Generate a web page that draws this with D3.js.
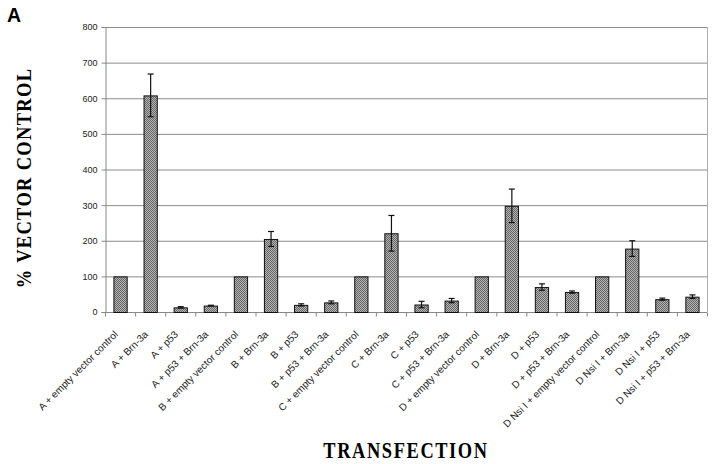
<!DOCTYPE html>
<html><head><meta charset="utf-8">
<script src="https://cdn.jsdelivr.net/npm/d3@7"></script>
<style>body{margin:0;background:#fff}svg{display:block}</style>
</head><body>
<script>
const categories = ["A + empty vector control","A + Brn-3a","A + p53","A + p53 + Brn-3a",
"B + empty vector control","B + Brn-3a","B + p53","B + p53 + Brn-3a",
"C + empty vector control","C + Brn-3a","C + p53","C + p53 + Brn-3a",
"D + empty vector control","D + Brn-3a","D + p53","D + p53 + Brn-3a",
"D Nsi I + empty vector control","D Nsi I + Brn-3a","D Nsi I + p53","D Nsi I + p53 + Brn-3a"];
const values = [100,608,13,18, 100,205,20,27, 100,221,21,32, 100,298,70,56, 100,178,36,43];
const errors = [0,60,2,1, 0,21,3,4, 0,50,9,6, 0,47,9,3, 0,22,3,5];
const yTicks = [0,100,200,300,400,500,600,700,800];

const W=715,H=464;
const m={l:105,r:8,t:27,b:152};
const svg=d3.select("body").append("svg").attr("width",W).attr("height",H);
const defs=svg.append("defs");
const pat=defs.append("pattern").attr("id","hatch").attr("patternUnits","userSpaceOnUse").attr("width",2).attr("height",2);
pat.append("rect").attr("width",2).attr("height",2).attr("fill","#b4b4b4");
pat.append("rect").attr("width",1).attr("height",1).attr("fill","#666");
pat.append("rect").attr("x",1).attr("y",1).attr("width",1).attr("height",1).attr("fill","#666");

const x=d3.scaleBand().domain(categories).range([m.l,W-m.r]).paddingInner(0.56).paddingOuter(0.28);
const y=d3.scaleLinear().domain([0,800]).range([H-m.b,m.t]);

// gridlines
svg.append("g").selectAll("line").data(yTicks.filter(d=>d>0)).join("line")
 .attr("x1",m.l).attr("x2",W-m.r).attr("y1",d=>y(d)+0.5).attr("y2",d=>y(d)+0.5)
 .attr("stroke","#8c8c8c").attr("stroke-width",1);
// right border
svg.append("line").attr("x1",W-m.r+0.5).attr("x2",W-m.r+0.5).attr("y1",y(800)).attr("y2",y(0)).attr("stroke","#b0b0b0");

// y axis
const ya=svg.append("g").attr("transform",`translate(${m.l+0.5},0)`)
 .call(d3.axisLeft(y).tickValues(yTicks).tickSize(4).tickPadding(4));
ya.select(".domain").attr("stroke","#888");
ya.selectAll(".tick line").attr("stroke","#888");
ya.selectAll("text").attr("font-family","Arial, 'Liberation Sans', sans-serif").attr("font-size",9).attr("fill","#222");

// x axis line and ticks at boundaries
const xa=svg.append("g").attr("transform",`translate(0,${y(0)+0.5})`);
xa.append("line").attr("x1",m.l).attr("x2",W-m.r).attr("stroke","#888");
xa.selectAll(".bt").data(d3.range(categories.length+1)).join("line").attr("class","bt")
 .attr("x1",i=>m.l+0.5+i*(W-m.r-m.l)/categories.length).attr("x2",i=>m.l+0.5+i*(W-m.r-m.l)/categories.length)
 .attr("y1",0).attr("y2",4).attr("stroke","#888");
xa.selectAll("text").data(categories).join("text")
 .attr("transform",d=>`translate(${x(d)+x.bandwidth()/2-4},20) rotate(-45)`)
 .attr("text-anchor","end").attr("dy","0.35em")
 .attr("font-family","Arial, 'Liberation Sans', sans-serif").attr("font-size",10).attr("fill","#222")
 .text(d=>d);

// bars
svg.append("g").selectAll("rect").data(categories).join("rect")
 .attr("x",d=>x(d)+0.5).attr("width",x.bandwidth())
 .attr("y",(d,i)=>y(values[i])+0.5).attr("height",(d,i)=>y(0)-y(values[i]))
 .attr("fill","url(#hatch)").attr("stroke","#111").attr("stroke-width",1);

// error bars
const eg=svg.append("g").attr("stroke","#111").attr("stroke-width",1.2);
categories.forEach((c,i)=>{
 if(!errors[i]) return;
 const cx=x(c)+x.bandwidth()/2+0.5;
 const t=y(values[i]+errors[i]), b=y(values[i]-errors[i]);
 eg.append("line").attr("x1",cx).attr("x2",cx).attr("y1",t).attr("y2",b);
 eg.append("line").attr("x1",cx-3).attr("x2",cx+3).attr("y1",t).attr("y2",t);
 eg.append("line").attr("x1",cx-3).attr("x2",cx+3).attr("y1",b).attr("y2",b);
});

// titles
svg.append("text").attr("x",7).attr("y",22).attr("font-family","Arial, 'Liberation Sans', sans-serif")
 .attr("font-weight","bold").attr("font-size",19.5).text("A");
svg.append("text").attr("transform",`translate(31,178) rotate(-90) scale(0.88,1)`)
 .attr("text-anchor","middle").attr("font-family","'Liberation Serif','Times New Roman',serif")
 .attr("font-weight","bold").attr("font-size",21).attr("letter-spacing",1.5).text("% VECTOR CONTROL");
svg.append("text").attr("transform","translate(406,457.5) scale(0.8,1)").attr("text-anchor","middle")
 .attr("font-family","'Liberation Serif','Times New Roman',serif")
 .attr("font-weight","bold").attr("font-size",23).attr("letter-spacing",2).text("TRANSFECTION");
</script>
</body></html>
